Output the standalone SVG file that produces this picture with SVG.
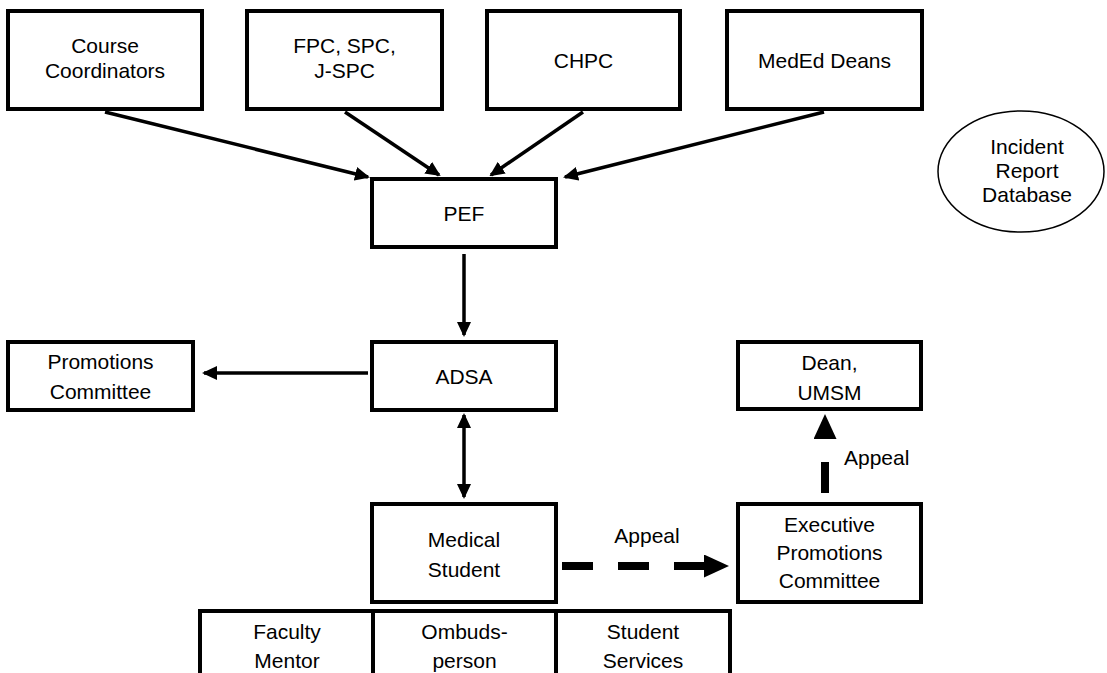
<svg xmlns="http://www.w3.org/2000/svg" width="1107" height="673" viewBox="0 0 1107 673">
<style>
.box{fill:#fff;stroke:#000;stroke-width:4}
.t{font-family:"Liberation Sans",Arial,sans-serif;font-size:21px;fill:#000;text-anchor:middle}
.c{stroke:#000;stroke-width:3.5;fill:none}
.d{stroke:#000;stroke-width:8;fill:none}
</style>
<defs>
<marker id="ah" markerWidth="15" markerHeight="14" refX="13" refY="7" orient="auto" markerUnits="userSpaceOnUse"><path d="M0,0 L15,7 L0,14 Z" fill="#000"/></marker>
<marker id="ahs" markerWidth="15" markerHeight="14" refX="13" refY="7" orient="auto-start-reverse" markerUnits="userSpaceOnUse"><path d="M0,0 L15,7 L0,14 Z" fill="#000"/></marker>
<marker id="ahb" markerWidth="25" markerHeight="23" refX="1" refY="11.5" orient="auto" markerUnits="userSpaceOnUse"><path d="M0,0 L25,11.5 L0,23 Z" fill="#000"/></marker>
</defs>
<rect width="1107" height="673" fill="#fff"/>
<g id="connectors">
<line class="c" x1="105" y1="112" x2="368" y2="177" marker-end="url(#ah)"/>
<line class="c" x1="345" y1="112" x2="439" y2="175" marker-end="url(#ah)"/>
<line class="c" x1="583" y1="112" x2="491" y2="175" marker-end="url(#ah)"/>
<line class="c" x1="824" y1="112" x2="565" y2="177" marker-end="url(#ah)"/>
<line class="c" x1="464" y1="254" x2="464" y2="335" marker-end="url(#ah)"/>
<line class="c" x1="368" y1="373" x2="204" y2="373" marker-end="url(#ah)"/>
<line class="c" x1="464" y1="415" x2="464" y2="497" marker-start="url(#ahs)" marker-end="url(#ah)"/>
<line class="d" x1="562" y1="566" x2="705" y2="566" stroke-dasharray="31,25" marker-end="url(#ahb)"/>
<line class="d" x1="825" y1="493" x2="825" y2="438" stroke-dasharray="31,24" marker-end="url(#ahb)"/>
<text class="t" x="647" y="543">Appeal</text>
<text class="t" x="844" y="465" style="text-anchor:start">Appeal</text>
</g>
<g id="course"><rect class="box" x="8" y="11" width="194" height="98"/><text class="t" x="105" y="53">Course</text><text class="t" x="105" y="78">Coordinators</text></g>
<g id="fpc"><rect class="box" x="247" y="11" width="195" height="98"/><text class="t" x="344.5" y="53">FPC, SPC,</text><text class="t" x="344.5" y="78">J-SPC</text></g>
<g id="chpc"><rect class="box" x="487" y="11" width="193" height="98"/><text class="t" x="583.5" y="68">CHPC</text></g>
<g id="meded"><rect class="box" x="727" y="11" width="195" height="98"/><text class="t" x="824.5" y="68">MedEd Deans</text></g>
<g id="incident"><ellipse cx="1021" cy="171.5" rx="83" ry="60.5" fill="#fff" stroke="#000" stroke-width="1.5"/><text class="t" x="1027" y="154">Incident</text><text class="t" x="1027" y="178">Report</text><text class="t" x="1027" y="202">Database</text></g>
<g id="pef"><rect class="box" x="372" y="179" width="184" height="68"/><text class="t" x="464" y="221">PEF</text></g>
<g id="adsa"><rect class="box" x="372" y="342" width="184" height="68"/><text class="t" x="464" y="384">ADSA</text></g>
<g id="promotions"><rect class="box" x="8" y="342" width="185" height="68"/><text class="t" x="100.5" y="369">Promotions</text><text class="t" x="100.5" y="399">Committee</text></g>
<g id="dean"><rect class="box" x="738" y="342" width="183" height="67"/><text class="t" x="829.5" y="370">Dean,</text><text class="t" x="829.5" y="400">UMSM</text></g>
<g id="medical"><rect class="box" x="372" y="504" width="184" height="98"/><text class="t" x="464" y="547">Medical</text><text class="t" x="464" y="577">Student</text></g>
<g id="epc"><rect class="box" x="738" y="504" width="183" height="98"/><text class="t" x="829.5" y="532">Executive</text><text class="t" x="829.5" y="560">Promotions</text><text class="t" x="829.5" y="588">Committee</text></g>
<g id="support"><path class="box" d="M200,676 V611 H730 V676"/><line class="box" x1="373" y1="611" x2="373" y2="676"/><line class="box" x1="556" y1="611" x2="556" y2="676"/>
<text class="t" x="287" y="639">Faculty</text><text class="t" x="287" y="668">Mentor</text>
<text class="t" x="464.5" y="639">Ombuds-</text><text class="t" x="464.5" y="668">person</text>
<text class="t" x="643" y="639">Student</text><text class="t" x="643" y="668">Services</text></g>
</svg>
